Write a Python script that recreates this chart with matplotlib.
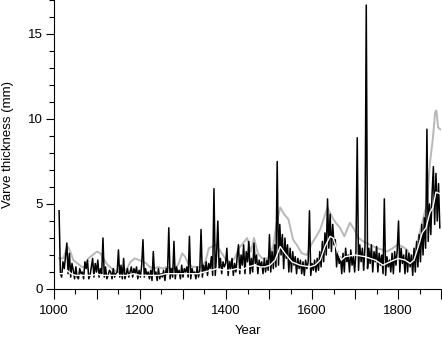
import numpy as np
import matplotlib
matplotlib.use('Agg')
import matplotlib.pyplot as plt
from matplotlib.ticker import MultipleLocator, FuncFormatter

plt.rcParams['font.family'] = ['Liberation Sans', 'DejaVu Sans']

# annual varve thickness, sampled every 3 years from 1012
black_start = 1012
black_step = 3
black_vals = [
    4.6, 0.9, 0.7, 1.6, 1.2, 1.9, 2.7, 0.9, 2.1, 0.7,
    1.5, 1.1, 0.6, 1.3, 0.7, 0.6, 1.2, 0.9, 1.0, 0.6,
    1.6, 1.2, 1.7, 0.6, 0.8, 1.3, 1.8, 0.7, 1.5, 1.0,
    1.7, 0.7, 1.2, 0.9, 3.0, 0.7, 1.3, 0.6, 0.8, 1.1,
    1.0, 0.6, 1.2, 0.7, 0.9, 1.0, 2.3, 0.7, 1.4, 0.6,
    1.8, 0.6, 0.9, 1.2, 0.7, 1.0, 1.3, 0.7, 1.2, 0.9,
    1.3, 0.6, 1.1, 0.7, 1.4, 2.9, 0.7, 1.2, 0.8, 1.0,
    0.6, 1.1, 0.5, 2.2, 0.8, 1.0, 0.5, 1.2, 0.6, 0.9,
    0.7, 1.1, 0.5, 1.2, 0.9, 3.6, 0.6, 1.2, 0.7, 2.8,
    0.6, 1.3, 0.9, 1.1, 0.6, 1.4, 0.7, 1.2, 1.0, 1.3,
    0.7, 3.1, 0.6, 1.2, 0.9, 1.0, 0.6, 1.3, 0.7, 1.1,
    3.5, 0.7, 1.4, 1.0, 1.6, 0.8, 1.5, 1.2, 1.9, 0.8,
    5.9, 0.8, 2.0, 4.0, 1.2, 1.8, 0.9, 1.6, 1.3, 1.5,
    2.4, 0.8, 1.6, 1.2, 1.8, 0.8, 1.5, 1.0, 1.9, 2.6,
    0.9, 2.0, 1.4, 2.6, 0.9, 2.2, 1.6, 2.8, 0.9, 1.8,
    1.0, 2.7, 1.5, 2.0, 0.9, 1.7, 1.3, 1.6, 0.9, 1.8,
    1.0, 1.7, 1.1, 3.2, 1.0, 2.2, 1.2, 2.6, 1.3, 7.5,
    1.4, 3.8, 2.0, 3.2, 1.2, 3.0, 1.8, 2.6, 1.0, 2.4,
    1.0, 2.2, 1.4, 1.9, 0.9, 1.8, 1.2, 1.7, 0.9, 1.6,
    0.8, 1.7, 1.2, 1.6, 4.6, 0.8, 1.5, 1.1, 1.7, 1.0,
    1.8, 1.1, 2.2, 1.3, 2.8, 1.6, 3.3, 2.0, 5.3, 2.4,
    4.4, 2.2, 3.8, 2.6, 2.9, 1.3, 2.2, 1.5, 1.9, 0.9,
    2.1, 1.0, 2.4, 1.6, 2.0, 1.0, 2.3, 1.4, 1.9, 1.0,
    2.2, 8.9, 1.1, 2.6, 1.6, 2.4, 1.1, 2.5, 16.7, 1.2,
    2.4, 1.5, 2.6, 1.0, 2.2, 1.6, 2.5, 1.0, 2.1, 1.4,
    2.0, 0.9, 5.3, 0.8, 1.9, 1.3, 1.7, 1.0, 2.1, 0.9,
    2.2, 1.4, 2.3, 4.0, 1.0, 2.4, 1.5, 2.0, 0.9, 2.3,
    1.0, 2.1, 1.3, 2.0, 0.8, 2.4, 1.0, 2.8, 1.3, 3.2,
    1.6, 3.8, 2.0, 4.2, 2.4, 9.4, 2.8, 5.0, 3.2, 5.6,
    7.2, 3.8, 6.8, 4.0, 6.2, 3.6,
]

# upper smoothed curve (grey)
grey_years = [1012, 1022, 1027, 1032, 1038, 1045, 1055, 1065, 1072, 1080,
              1090, 1100, 1108, 1115, 1122, 1130, 1140, 1150, 1160, 1170,
              1178, 1188, 1198, 1208, 1215, 1222, 1232, 1242, 1252, 1262,
              1272, 1282, 1290, 1298, 1305, 1312, 1322, 1332, 1342, 1352,
              1360, 1368, 1376, 1385, 1393, 1400, 1410, 1420, 1430, 1437,
              1449, 1458, 1465, 1474, 1484, 1494, 1502, 1510, 1518, 1526,
              1535, 1545, 1556, 1567, 1576, 1588, 1600, 1610, 1619, 1628,
              1636, 1647, 1655, 1665, 1675, 1688, 1698, 1708, 1719, 1735,
              1751, 1765, 1774, 1788, 1798, 1810, 1821, 1833, 1844, 1856,
              1867, 1874, 1881, 1886, 1889, 1893, 1898]
grey_vals = [1.8, 1.8, 2.2, 2.5, 2.2, 1.7, 1.5, 1.3, 1.3, 1.8,
             2.0, 2.2, 2.1, 1.8, 1.5, 1.3, 1.1, 1.0, 1.0, 1.2,
             1.6, 1.8, 1.7, 1.6, 1.5, 1.3, 1.2, 1.3, 1.2, 1.3,
             1.2, 1.2, 1.5, 2.1, 1.9, 1.5, 1.3, 1.3, 1.3, 1.6,
             2.4, 2.5, 2.6, 2.3, 2.0, 1.7, 1.6, 1.8, 2.4, 2.6,
             3.0, 2.2, 3.0, 2.1, 1.8, 1.8, 1.9, 2.6, 3.9, 4.8,
             4.4, 4.1, 2.9, 2.5, 2.1, 2.0, 2.7, 3.1, 3.5, 4.2,
             4.8, 4.2, 3.9, 3.6, 3.1, 3.9, 3.5, 3.0, 2.8, 2.6,
             2.4, 2.3, 2.2, 2.4, 2.6, 2.5, 2.3, 1.7, 2.7, 3.9,
             5.0, 7.4, 8.9, 10.4, 10.5, 9.5, 9.4]

# lower smoothed curve (white)
white_years = [1012, 1020, 1030, 1040, 1050, 1060, 1075, 1090, 1100, 1110,
               1125, 1140, 1155, 1170, 1185, 1200, 1215, 1230, 1245, 1260,
               1275, 1290, 1305, 1320, 1335, 1350, 1365, 1380, 1395, 1410,
               1425, 1437, 1450, 1467, 1480, 1490, 1502, 1514, 1526, 1537,
               1553, 1572, 1595, 1607, 1619, 1630, 1642, 1649, 1658, 1668,
               1677, 1700, 1723, 1747, 1765, 1781, 1800, 1816, 1828, 1837,
               1847, 1856, 1865, 1874, 1881, 1888, 1898]
white_vals = [0.9, 0.9, 1.1, 0.9, 0.8, 0.8, 0.8, 0.8, 0.9, 0.8,
              0.8, 0.8, 0.8, 0.8, 0.9, 0.8, 0.8, 0.8, 0.8, 0.9,
              0.9, 0.9, 0.9, 0.9, 0.9, 1.0, 1.1, 1.2, 1.1, 1.1,
              1.2, 1.1, 1.3, 1.4, 1.3, 1.3, 1.4, 1.7, 2.5, 2.1,
              1.6, 1.4, 1.3, 1.4, 1.7, 2.5, 3.1, 3.0, 2.3, 1.7,
              1.9, 2.0, 1.9, 1.7, 1.4, 1.6, 1.8, 1.7, 1.5, 1.7,
              2.5, 3.3, 3.6, 4.5, 4.8, 5.7, 5.6]

black_years = black_start + black_step * np.arange(len(black_vals))

fig = plt.figure(figsize=(4.42, 3.38), dpi=100)
ax = fig.add_axes([0.122, 0.145, 0.876, 0.855])

ax.plot(grey_years, grey_vals, color='#b8b8b8', lw=1.4, zorder=2)
ax.plot(black_years, black_vals, color='black', lw=1.1, zorder=3)
ax.plot(white_years, white_vals, color='white', lw=1.0, zorder=4)

ax.set_xlim(1000, 1900)
ax.set_ylim(0, 17)
ax.xaxis.set_major_locator(MultipleLocator(100))
ax.xaxis.set_minor_locator(MultipleLocator(50))
ax.xaxis.set_major_formatter(FuncFormatter(lambda v, p: f'{int(v)}' if int(v) % 200 == 0 else ''))
ax.yaxis.set_major_locator(MultipleLocator(5))
ax.yaxis.set_minor_locator(MultipleLocator(1))

ax.spines['top'].set_visible(False)
ax.spines['right'].set_visible(False)
for s in ('left', 'bottom'):
    ax.spines[s].set_linewidth(0.8)
ax.tick_params(axis='x', which='major', direction='out', length=7, width=0.8, labelsize=9.5, pad=4.5)
ax.tick_params(axis='x', which='minor', direction='out', length=3.5, width=0.8)
ax.tick_params(axis='y', which='major', direction='out', length=6, width=0.8, labelsize=9.5, pad=2)
ax.tick_params(axis='y', which='minor', direction='out', length=3.5, width=0.8)

ax.set_xlabel('Year', fontsize=9.5, labelpad=6)
ax.set_ylabel('Varve thickness (mm)', fontsize=9.5, labelpad=10)

fig.savefig('out.png', dpi=100)
